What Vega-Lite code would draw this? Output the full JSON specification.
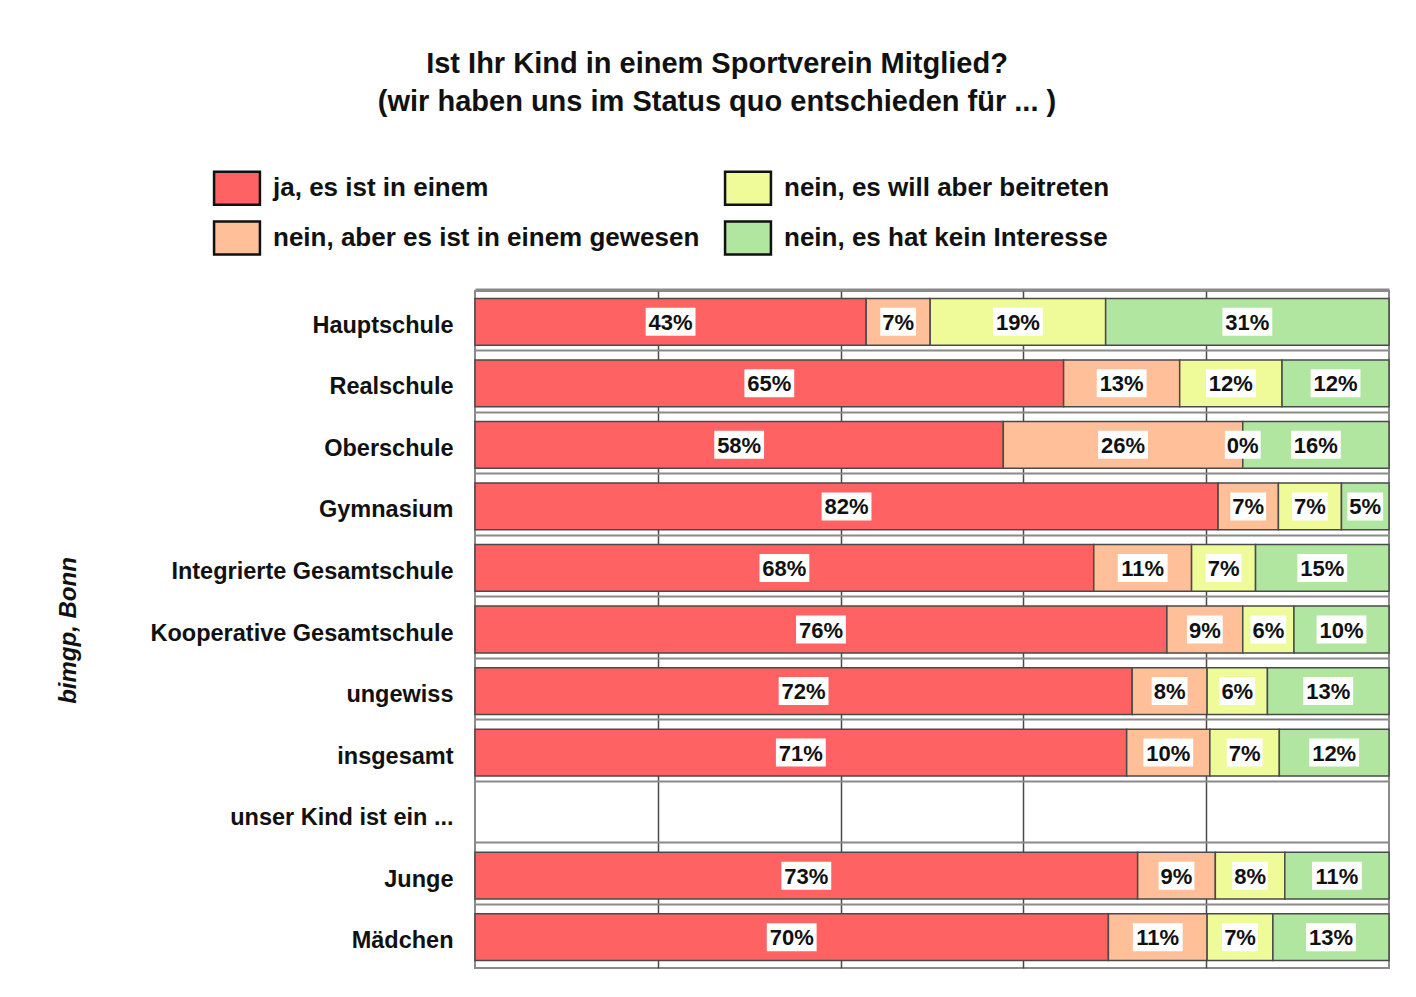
{
  "$schema": "https://vega.github.io/schema/vega-lite/v6.json",
  "width": 914,
  "height": 677,
  "autosize": {"type": "none"},
  "padding": {"left": 475, "top": 291, "right": 27, "bottom": 29},
  "background": "white",
  "title": {
    "text": ["Ist Ihr Kind in einem Sportverein Mitglied?", "(wir haben uns im Status quo entschieden für ... )"],
    "anchor": "middle",
    "frame": "group",
    "dx": -215,
    "offset": 53,
    "font": "Liberation Sans",
    "fontSize": 29,
    "fontWeight": "bold",
    "color": "#111111",
    "lineHeight": 38
  },
  "config": {
    "view": {"stroke": "#8a8a8a", "strokeWidth": 2},
    "font": "Liberation Sans"
  },
  "datasets": {
    "survey": [
      {"school": "Hauptschule", "answer": "ja, es ist in einem", "k": 1, "value": 42.8, "label": "43%"},
      {"school": "Hauptschule", "answer": "nein, aber es ist in einem gewesen", "k": 2, "value": 7.0, "label": "7%"},
      {"school": "Hauptschule", "answer": "nein, es will aber beitreten", "k": 3, "value": 19.2, "label": "19%"},
      {"school": "Hauptschule", "answer": "nein, es hat kein Interesse", "k": 4, "value": 31.0, "label": "31%"},
      {"school": "Realschule", "answer": "ja, es ist in einem", "k": 1, "value": 64.4, "label": "65%"},
      {"school": "Realschule", "answer": "nein, aber es ist in einem gewesen", "k": 2, "value": 12.7, "label": "13%"},
      {"school": "Realschule", "answer": "nein, es will aber beitreten", "k": 3, "value": 11.2, "label": "12%"},
      {"school": "Realschule", "answer": "nein, es hat kein Interesse", "k": 4, "value": 11.7, "label": "12%"},
      {"school": "Oberschule", "answer": "ja, es ist in einem", "k": 1, "value": 57.8, "label": "58%"},
      {"school": "Oberschule", "answer": "nein, aber es ist in einem gewesen", "k": 2, "value": 26.2, "label": "26%"},
      {"school": "Oberschule", "answer": "nein, es will aber beitreten", "k": 3, "value": 0.0, "label": "0%"},
      {"school": "Oberschule", "answer": "nein, es hat kein Interesse", "k": 4, "value": 16.0, "label": "16%"},
      {"school": "Gymnasium", "answer": "ja, es ist in einem", "k": 1, "value": 81.3, "label": "82%"},
      {"school": "Gymnasium", "answer": "nein, aber es ist in einem gewesen", "k": 2, "value": 6.6, "label": "7%"},
      {"school": "Gymnasium", "answer": "nein, es will aber beitreten", "k": 3, "value": 6.9, "label": "7%"},
      {"school": "Gymnasium", "answer": "nein, es hat kein Interesse", "k": 4, "value": 5.2, "label": "5%"},
      {"school": "Integrierte Gesamtschule", "answer": "ja, es ist in einem", "k": 1, "value": 67.7, "label": "68%"},
      {"school": "Integrierte Gesamtschule", "answer": "nein, aber es ist in einem gewesen", "k": 2, "value": 10.7, "label": "11%"},
      {"school": "Integrierte Gesamtschule", "answer": "nein, es will aber beitreten", "k": 3, "value": 7.0, "label": "7%"},
      {"school": "Integrierte Gesamtschule", "answer": "nein, es hat kein Interesse", "k": 4, "value": 14.6, "label": "15%"},
      {"school": "Kooperative Gesamtschule", "answer": "ja, es ist in einem", "k": 1, "value": 75.7, "label": "76%"},
      {"school": "Kooperative Gesamtschule", "answer": "nein, aber es ist in einem gewesen", "k": 2, "value": 8.3, "label": "9%"},
      {"school": "Kooperative Gesamtschule", "answer": "nein, es will aber beitreten", "k": 3, "value": 5.6, "label": "6%"},
      {"school": "Kooperative Gesamtschule", "answer": "nein, es hat kein Interesse", "k": 4, "value": 10.4, "label": "10%"},
      {"school": "ungewiss", "answer": "ja, es ist in einem", "k": 1, "value": 71.9, "label": "72%"},
      {"school": "ungewiss", "answer": "nein, aber es ist in einem gewesen", "k": 2, "value": 8.2, "label": "8%"},
      {"school": "ungewiss", "answer": "nein, es will aber beitreten", "k": 3, "value": 6.6, "label": "6%"},
      {"school": "ungewiss", "answer": "nein, es hat kein Interesse", "k": 4, "value": 13.3, "label": "13%"},
      {"school": "insgesamt", "answer": "ja, es ist in einem", "k": 1, "value": 71.3, "label": "71%"},
      {"school": "insgesamt", "answer": "nein, aber es ist in einem gewesen", "k": 2, "value": 9.1, "label": "10%"},
      {"school": "insgesamt", "answer": "nein, es will aber beitreten", "k": 3, "value": 7.6, "label": "7%"},
      {"school": "insgesamt", "answer": "nein, es hat kein Interesse", "k": 4, "value": 12.0, "label": "12%"},
      {"school": "Junge", "answer": "ja, es ist in einem", "k": 1, "value": 72.5, "label": "73%"},
      {"school": "Junge", "answer": "nein, aber es ist in einem gewesen", "k": 2, "value": 8.5, "label": "9%"},
      {"school": "Junge", "answer": "nein, es will aber beitreten", "k": 3, "value": 7.6, "label": "8%"},
      {"school": "Junge", "answer": "nein, es hat kein Interesse", "k": 4, "value": 11.4, "label": "11%"},
      {"school": "Mädchen", "answer": "ja, es ist in einem", "k": 1, "value": 69.3, "label": "70%"},
      {"school": "Mädchen", "answer": "nein, aber es ist in einem gewesen", "k": 2, "value": 10.8, "label": "11%"},
      {"school": "Mädchen", "answer": "nein, es will aber beitreten", "k": 3, "value": 7.2, "label": "7%"},
      {"school": "Mädchen", "answer": "nein, es hat kein Interesse", "k": 4, "value": 12.7, "label": "13%"}
    ]
  },
  "data": {"name": "survey"},
  "transform": [
    {"stack": "value", "groupby": ["school"], "sort": [{"field": "k", "order": "ascending"}], "offset": "normalize", "as": ["x0", "x1"]},
    {"calculate": "(datum.x0 + datum.x1) / 2", "as": "xm"}
  ],
  "encoding": {
    "y": {
      "field": "school",
      "type": "nominal",
      "scale": {
        "domain": ["Hauptschule", "Realschule", "Oberschule", "Gymnasium", "Integrierte Gesamtschule", "Kooperative Gesamtschule", "ungewiss", "insgesamt", "unser Kind ist ein ...", "Junge", "Mädchen"],
        "paddingInner": 0.24,
        "paddingOuter": 0.12
      },
      "axis": {
        "title": "bimgp, Bonn",
        "titleFont": "Liberation Sans",
        "titleFontSize": 24,
        "titleFontWeight": "bold",
        "titleFontStyle": "italic",
        "titleColor": "#111111",
        "titleAngle": 270,
        "titleX": -407,
        "titleY": 339,
        "titleAlign": "center",
        "titleBaseline": "middle",
        "labelFont": "Liberation Sans",
        "labelFontSize": 23.5,
        "labelFontWeight": "bold",
        "labelColor": "#111111",
        "labelPadding": 22,
        "labelOffset": 4,
        "labelLimit": 600,
        "ticks": false,
        "domain": false,
        "grid": true,
        "gridColor": "#8a8a8a",
        "gridWidth": 2,
        "bandPosition": -0.2
      }
    }
  },
  "layer": [
    {
      "mark": {"type": "bar", "stroke": "#4a4a4a", "strokeWidth": 1.5},
      "encoding": {
        "x": {
          "field": "x0",
          "type": "quantitative",
          "scale": {"domain": [0, 1], "nice": false},
          "axis": {
            "title": null,
            "labels": false,
            "ticks": false,
            "domain": false,
            "grid": true,
            "values": [0.2, 0.4, 0.6, 0.8],
            "gridColor": "#4a4a4a",
            "gridWidth": 1.5
          }
        },
        "x2": {"field": "x1"},
        "color": {
          "field": "answer",
          "type": "nominal",
          "scale": {
            "domain": ["ja, es ist in einem", "nein, aber es ist in einem gewesen", "nein, es will aber beitreten", "nein, es hat kein Interesse"],
            "range": ["#ff6262", "#ffbf99", "#eefb98", "#b0e6a0"]
          },
          "legend": {
            "title": null,
            "orient": "none",
            "legendX": -256,
            "legendY": -121,
            "columns": 2,
            "padding": 0,
            "symbolType": "M-1.39,-1H1.39V1H-1.39Z",
            "symbolSize": 1089,
            "symbolStrokeColor": "#111111",
            "symbolStrokeWidth": 2.5,
            "symbolOpacity": 1,
            "labelFont": "Liberation Sans",
            "labelFontSize": 26,
            "labelFontWeight": "bold",
            "labelColor": "#111111",
            "labelOffset": 18,
            "labelLimit": 600,
            "columnPadding": 20,
            "rowPadding": 6
          }
        }
      }
    },
    {
      "transform": [{"filter": "length(datum.label) <= 2"}],
      "mark": {"type": "point", "filled": true, "fill": "white", "opacity": 1, "strokeWidth": 0, "shape": "M-0.64,-0.5H0.64V0.5H-0.64Z", "size": 3136},
      "encoding": {"x": {"field": "xm", "type": "quantitative"}}
    },
    {
      "transform": [{"filter": "length(datum.label) > 2"}],
      "mark": {"type": "point", "filled": true, "fill": "white", "opacity": 1, "strokeWidth": 0, "shape": "M-0.89,-0.5H0.89V0.5H-0.89Z", "size": 3136},
      "encoding": {"x": {"field": "xm", "type": "quantitative"}}
    },
    {
      "mark": {"type": "text", "font": "Liberation Sans", "fontSize": 22, "fontWeight": "bold", "color": "#111111", "baseline": "middle", "align": "center", "dy": 1},
      "encoding": {
        "x": {"field": "xm", "type": "quantitative"},
        "text": {"field": "label", "type": "nominal"}
      }
    }
  ]
}
